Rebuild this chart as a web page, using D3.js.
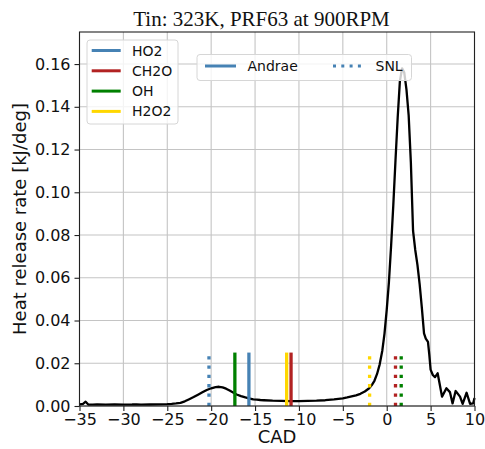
<!DOCTYPE html>
<html>
<head>
<meta charset="utf-8">
<script src="https://cdn.jsdelivr.net/npm/d3@7"></script>
<style>
  html, body { margin: 0; padding: 0; background: #fff; }
  svg { display: block; }
</style>
</head>
<body>
<svg id="chart" width="485" height="449"></svg>
<script>
// Crank-angle samples (deg) and heat release rate (kJ/deg)
const cad = [-35, -34.6, -34.3, -34.0, -33.5, -33, -32, -31, -30, -29, -28.5, -28, -27, -26, -25,
  -24.5, -24, -23.5, -23, -22.5, -22, -21.5, -21, -20.5, -20, -19.5, -19.1, -18.7, -18.3, -17.9,
  -17.5, -17.1, -16.6, -16.1, -15.6, -15.2, -14.8, -14.4, -14, -13, -12, -11, -10, -9, -8, -7, -6,
  -5, -4.5, -4, -3.5, -3, -2.5, -2, -1.7, -1.4, -1.1, -0.8, -0.5, -0.25, 0, 0.25, 0.5, 0.75, 1.0,
  1.25, 1.5, 1.75, 2.0, 2.25, 2.5, 2.75, 3.0, 3.25, 3.5, 3.75, 4.0, 4.25, 4.45, 4.7, 4.85, 5.0,
  5.25, 5.5, 5.8, 6.0, 6.3, 6.8, 7.2, 7.5, 7.85, 8.35, 8.65, 9.1, 9.5, 9.85, 10];
const hrr = [0.0008, 0.0010, 0.0020, 0.0007, 0.0006, 0.0007, 0.0006, 0.0007, 0.0006, 0.0007, 0.0008,
  0.0006, 0.0007, 0.0008, 0.0009, 0.0010, 0.0012, 0.0015, 0.0022, 0.0032, 0.0042, 0.0053, 0.0064,
  0.0075, 0.0083, 0.0088, 0.0090, 0.0087, 0.0081, 0.0072, 0.0063, 0.0054, 0.0046, 0.0040, 0.0035,
  0.0031, 0.0030, 0.0028, 0.0027, 0.0025, 0.0024, 0.0023, 0.0023, 0.0024, 0.0025, 0.0027, 0.0031,
  0.0036, 0.0040, 0.0045, 0.0050, 0.0057, 0.0068, 0.0083, 0.0098, 0.0118, 0.0150, 0.0195, 0.026,
  0.034, 0.045, 0.058, 0.075, 0.094, 0.115, 0.135, 0.152, 0.158, 0.156, 0.148, 0.136, 0.114, 0.082,
  0.073, 0.066, 0.057, 0.046, 0.034, 0.0315, 0.030, 0.024, 0.017, 0.0145, 0.0135, 0.0153, 0.011,
  0.0044, 0.0083, 0.0065, 0.0012, 0.0070, 0.0044, 0.0010, 0.0062, 0.0010, 0.0012, 0.0037];

// Ignition markers per species: Andrae mechanism (solid) and SNL mechanism (dotted)
const species = ["HO2", "CH2O", "OH", "H2O2"];
const speciesColors = ["#4682b4", "#b22222", "#008000", "#ffd700"];
const andraeCAD = [-15.7, -10.9, -17.3, -11.4];
const snlCAD = [-20.25, 1.0, 1.65, -1.95];
const markerTop = 0.025;

const mechanisms = ["Andrae", "SNL"];
const xTicks = [-35, -30, -25, -20, -15, -10, -5, 0, 5, 10];
const yTicks = [0, 0.02, 0.04, 0.06, 0.08, 0.10, 0.12, 0.14, 0.16];

const titleText = "Tin: 323K, PRF63 at 900RPM";
const xLabel = "CAD";
const yLabel = "Heat release rate [kJ/deg]";

const svg = d3.select("#chart");
const plot = { left: 79.5, right: 474.5, top: 32, bottom: 406 };

const x = d3.scaleLinear().domain([-35, 10]).range([plot.left, plot.right]);
const y = d3.scaleLinear().domain([0, 0.175]).range([plot.bottom, plot.top]);

svg.append("rect").attr("width", 485).attr("height", 449).attr("fill", "#fff");

// Grid
const grid = svg.append("g").attr("stroke", "#c4c4c4").attr("stroke-width", 1.1);
grid.selectAll("line.gx").data(xTicks).join("line")
  .attr("x1", d => x(d)).attr("x2", d => x(d))
  .attr("y1", plot.top).attr("y2", plot.bottom);
grid.selectAll("line.gy").data(yTicks).join("line")
  .attr("x1", plot.left).attr("x2", plot.right)
  .attr("y1", d => y(d)).attr("y2", d => y(d));

// HRR curve
const pts = cad.map((c, i) => [c, hrr[i]]);
svg.append("path")
  .datum(pts)
  .attr("fill", "none")
  .attr("stroke", "#000")
  .attr("stroke-width", 2.3)
  .attr("stroke-linejoin", "round")
  .attr("d", d3.line().x(d => x(d[0])).y(d => y(d[1])));

// Species markers
const markers = svg.append("g");
species.forEach((s, i) => {
  markers.append("line")
    .attr("x1", x(andraeCAD[i])).attr("x2", x(andraeCAD[i]))
    .attr("y1", y(0)).attr("y2", y(markerTop))
    .attr("stroke", speciesColors[i]).attr("stroke-width", 3.3);
  markers.append("line")
    .attr("x1", x(snlCAD[i])).attr("x2", x(snlCAD[i]))
    .attr("y1", y(0)).attr("y2", y(markerTop))
    .attr("stroke", speciesColors[i]).attr("stroke-width", 3.3)
    .attr("stroke-dasharray", "3.3,6");
});

// Spines
svg.append("rect")
  .attr("x", plot.left).attr("y", plot.top)
  .attr("width", plot.right - plot.left).attr("height", plot.bottom - plot.top)
  .attr("fill", "none").attr("stroke", "#222").attr("stroke-width", 1.1);

// Axes
const xAxis = svg.append("g")
  .attr("transform", `translate(0,${plot.bottom})`)
  .call(d3.axisBottom(x).tickValues(xTicks).tickSize(5).tickPadding(3).tickFormat(d3.format("d")));
const yAxis = svg.append("g")
  .attr("transform", `translate(${plot.left},0)`)
  .call(d3.axisLeft(y).tickValues(yTicks).tickSize(5).tickPadding(4).tickFormat(d3.format(".2f")));
[xAxis, yAxis].forEach(a => {
  a.select(".domain").remove();
  a.selectAll(".tick line").attr("stroke", "#222").attr("stroke-width", 1.1);
  a.selectAll(".tick text")
    .attr("fill", "#111")
    .style("font-family", "'DejaVu Sans', sans-serif")
    .style("font-size", "16px");
});

// Title and axis labels
svg.append("text")
  .attr("x", 261.5).attr("y", 26)
  .attr("text-anchor", "middle")
  .style("font-family", "'Liberation Serif', 'Times New Roman', serif")
  .style("font-size", "21px")
  .attr("fill", "#111")
  .text(titleText);

svg.append("text")
  .attr("x", (plot.left + plot.right) / 2).attr("y", 443)
  .attr("text-anchor", "middle")
  .style("font-family", "'DejaVu Sans', sans-serif")
  .style("font-size", "18px")
  .attr("fill", "#111")
  .text(xLabel);

svg.append("text")
  .attr("transform", `translate(26,${(plot.top + plot.bottom) / 2}) rotate(-90)`)
  .attr("text-anchor", "middle")
  .style("font-family", "'DejaVu Sans', sans-serif")
  .style("font-size", "18px")
  .attr("fill", "#111")
  .text(yLabel);

// Species legend
const leg1 = svg.append("g");
leg1.append("rect")
  .attr("x", 87).attr("y", 40).attr("width", 91).attr("height", 84).attr("rx", 3)
  .attr("fill", "#fff").attr("fill-opacity", 0.8)
  .attr("stroke", "#d6d6d6").attr("stroke-width", 1);
species.forEach((s, i) => {
  const yy = 50.5 + i * 20.3;
  leg1.append("line")
    .attr("x1", 91.7).attr("x2", 120.7).attr("y1", yy).attr("y2", yy)
    .attr("stroke", speciesColors[i]).attr("stroke-width", 3);
  leg1.append("text")
    .attr("x", 132).attr("y", yy).attr("dy", "0.36em")
    .style("font-family", "'DejaVu Sans', sans-serif")
    .style("font-size", "14px")
    .attr("fill", "#111")
    .text(s);
});

// Mechanism legend
const leg2 = svg.append("g");
leg2.append("rect")
  .attr("x", 197).attr("y", 54.5).attr("width", 214.5).attr("height", 26).attr("rx", 3)
  .attr("fill", "#fff").attr("fill-opacity", 0.8)
  .attr("stroke", "#d6d6d6").attr("stroke-width", 1);
const mechStyles = [null, "3,5.3"];
const mechX = [205, 333];
mechanisms.forEach((m, i) => {
  const ln = leg2.append("line")
    .attr("x1", mechX[i]).attr("x2", mechX[i] + 31).attr("y1", 66).attr("y2", 66)
    .attr("stroke", speciesColors[0]).attr("stroke-width", 3);
  if (mechStyles[i]) ln.attr("stroke-dasharray", mechStyles[i]);
  leg2.append("text")
    .attr("x", mechX[i] + 42.5).attr("y", 66).attr("dy", "0.36em")
    .style("font-family", "'DejaVu Sans', sans-serif")
    .style("font-size", "14px")
    .attr("fill", "#111")
    .text(m);
});
</script>
</body>
</html>
